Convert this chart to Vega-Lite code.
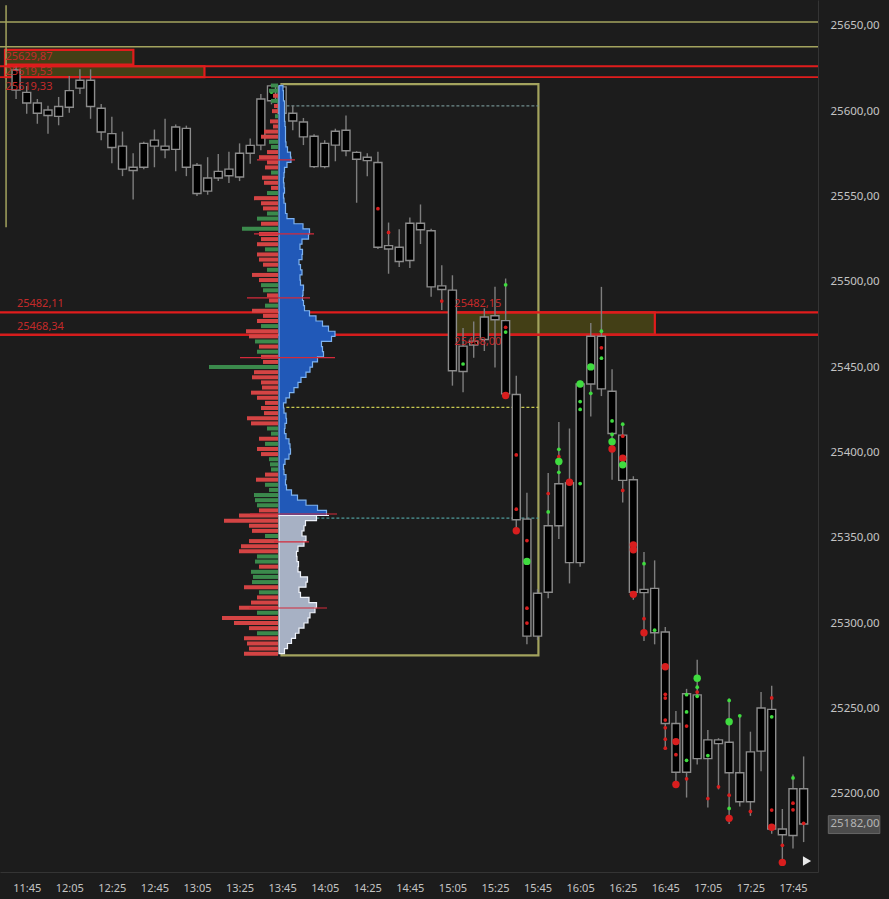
{
"$schema": "https://vega.github.io/schema/vega-lite/v6.json",
"width": 818, "height": 872,
"autosize": {"type": "none"},
"padding": {"left": 0, "top": 0, "right": 71, "bottom": 27},
"background": "#1c1c1c",
"config": {"view": {"stroke": null}, "axis": {"grid": false, "ticks": false, "labelColor": "#c4c4c4", "labelFont": "Noto Sans", "labelFontSize": 11, "domainColor": "#343434", "domainWidth": 1}},
"datasets": {
"candles": [
{"t":700,"o":25624.1,"c":25612.3,"h":25626.0,"l":25607.1},
{"t":705,"o":25611.0,"c":25604.8,"h":25614.7,"l":25598.4},
{"t":710,"o":25604.8,"c":25598.8,"h":25607.1,"l":25592.6},
{"t":715,"o":25600.7,"c":25597.4,"h":25603.2,"l":25586.8},
{"t":720,"o":25602.7,"c":25596.9,"h":25608.3,"l":25591.7},
{"t":725,"o":25612.0,"c":25602.3,"h":25620.6,"l":25599.0},
{"t":730,"o":25618.1,"c":25613.5,"h":25624.5,"l":25610.0},
{"t":735,"o":25618.1,"c":25602.7,"h":25624.5,"l":25595.5},
{"t":740,"o":25601.7,"c":25587.8,"h":25604.2,"l":25583.0},
{"t":745,"o":25586.8,"c":25578.7,"h":25596.7,"l":25569.5},
{"t":750,"o":25579.5,"c":25566.0,"h":25588.0,"l":25561.9},
{"t":755,"o":25567.1,"c":25565.2,"h":25575.3,"l":25548.2},
{"t":760,"o":25581.1,"c":25567.1,"h":25582.0,"l":25566.0},
{"t":765,"o":25583.0,"c":25579.5,"h":25589.2,"l":25567.1},
{"t":770,"o":25579.5,"c":25577.4,"h":25595.5,"l":25572.4},
{"t":775,"o":25590.7,"c":25577.6,"h":25592.2,"l":25564.8},
{"t":780,"o":25589.9,"c":25567.1,"h":25591.5,"l":25561.9},
{"t":785,"o":25568.3,"c":25551.7,"h":25569.6,"l":25550.3},
{"t":790,"o":25560.8,"c":25553.1,"h":25573.0,"l":25551.0},
{"t":795,"o":25564.7,"c":25560.8,"h":25574.9,"l":25559.0},
{"t":800,"o":25566.0,"c":25562.1,"h":25576.2,"l":25557.9},
{"t":805,"o":25575.3,"c":25561.4,"h":25581.1,"l":25559.0},
{"t":810,"o":25579.9,"c":25575.3,"h":25584.0,"l":25569.1},
{"t":815,"o":25607.1,"c":25580.1,"h":25610.0,"l":25577.0},
{"t":820,"o":25614.8,"c":25606.1,"h":25615.8,"l":25604.0},
{"t":825,"o":25614.2,"c":25598.8,"h":25616.0,"l":25597.0},
{"t":830,"o":25598.8,"c":25594.2,"h":25603.2,"l":25588.8},
{"t":835,"o":25593.6,"c":25584.9,"h":25596.0,"l":25580.1},
{"t":840,"o":25585.3,"c":25567.5,"h":25586.5,"l":25566.7},
{"t":845,"o":25581.1,"c":25567.5,"h":25583.0,"l":25566.5},
{"t":850,"o":25588.2,"c":25580.1,"h":25589.7,"l":25570.6},
{"t":855,"o":25588.8,"c":25576.8,"h":25597.4,"l":25573.5},
{"t":860,"o":25575.8,"c":25571.8,"h":25576.5,"l":25546.3},
{"t":865,"o":25573.0,"c":25571.0,"h":25575.3,"l":25561.9},
{"t":870,"o":25569.9,"c":25520.2,"h":25576.2,"l":25519.2},
{"t":875,"o":25521.2,"c":25519.2,"h":25534.7,"l":25504.7},
{"t":880,"o":25520.2,"c":25511.9,"h":25530.8,"l":25508.6},
{"t":885,"o":25534.3,"c":25512.5,"h":25537.6,"l":25508.0},
{"t":890,"o":25534.3,"c":25530.5,"h":25545.3,"l":25522.1},
{"t":895,"o":25529.9,"c":25497.0,"h":25531.0,"l":25491.2},
{"t":900,"o":25497.6,"c":25495.5,"h":25509.6,"l":25483.5},
{"t":905,"o":25495.1,"c":25447.8,"h":25503.8,"l":25439.1},
{"t":910,"o":25462.3,"c":25447.4,"h":25472.9,"l":25435.2},
{"t":915,"o":25465.2,"c":25462.9,"h":25476.7,"l":25455.5},
{"t":920,"o":25479.3,"c":25466.2,"h":25484.5,"l":25459.4},
{"t":925,"o":25480.1,"c":25477.7,"h":25497.0,"l":25449.7},
{"t":930,"o":25477.2,"c":25434.3,"h":25501.9,"l":25431.6},
{"t":935,"o":25433.9,"c":25360.5,"h":25444.9,"l":25353.2},
{"t":940,"o":25360.9,"c":25292.3,"h":25376.3,"l":25287.5},
{"t":945,"o":25317.4,"c":25292.3,"h":25320.0,"l":25290.0},
{"t":950,"o":25357.0,"c":25318.0,"h":25387.9,"l":25314.5},
{"t":955,"o":25381.6,"c":25357.0,"h":25417.8,"l":25349.3},
{"t":960,"o":25382.2,"c":25335.4,"h":25414.0,"l":25323.2},
{"t":965,"o":25440.1,"c":25335.4,"h":25442.0,"l":25333.0},
{"t":970,"o":25468.1,"c":25440.1,"h":25475.8,"l":25421.0},
{"t":975,"o":25468.1,"c":25437.2,"h":25497.0,"l":25433.0},
{"t":980,"o":25435.8,"c":25411.1,"h":25448.7,"l":25384.0},
{"t":985,"o":25410.1,"c":25383.6,"h":25416.9,"l":25370.6},
{"t":990,"o":25384.0,"c":25318.0,"h":25386.0,"l":25313.6},
{"t":995,"o":25319.7,"c":25317.8,"h":25341.6,"l":25289.4},
{"t":1000,"o":25320.3,"c":25294.3,"h":25336.7,"l":25287.5},
{"t":1005,"o":25294.7,"c":25241.1,"h":25297.6,"l":25225.9},
{"t":1010,"o":25241.1,"c":25212.5,"h":25248.5,"l":25203.5},
{"t":1015,"o":25258.5,"c":25212.5,"h":25261.4,"l":25197.7},
{"t":1020,"o":25257.9,"c":25220.5,"h":25278.4,"l":25217.0},
{"t":1025,"o":25231.5,"c":25220.5,"h":25237.3,"l":25191.9},
{"t":1030,"o":25231.5,"c":25229.3,"h":25232.5,"l":25202.5},
{"t":1035,"o":25230.1,"c":25212.2,"h":25255.8,"l":25182.2},
{"t":1040,"o":25212.2,"c":25195.2,"h":25245.6,"l":25192.5},
{"t":1045,"o":25224.5,"c":25195.2,"h":25236.3,"l":25187.0},
{"t":1050,"o":25250.2,"c":25224.9,"h":25259.5,"l":25213.1},
{"t":1055,"o":25249.4,"c":25179.3,"h":25263.3,"l":25176.5},
{"t":1060,"o":25179.3,"c":25175.9,"h":25191.0,"l":25160.0},
{"t":1065,"o":25202.9,"c":25175.5,"h":25211.2,"l":25167.8},
{"t":1070,"o":25202.9,"c":25182.2,"h":25221.8,"l":25171.6}
],
"dots": [
{"t":820,"p":25611.2,"k":"g","s":"s"},
{"t":870,"p":25542.8,"k":"r","s":"s"},
{"t":875,"p":25528.9,"k":"r","s":"s"},
{"t":900,"p":25488.7,"k":"r","s":"s"},
{"t":910,"p":25451.8,"k":"g","s":"s"},
{"t":930,"p":25498.2,"k":"g","s":"s"},
{"t":930,"p":25473.3,"k":"r","s":"s"},
{"t":930,"p":25470.5,"k":"g","s":"s"},
{"t":930,"p":25433.3,"k":"r","s":"b"},
{"t":935,"p":25398.5,"k":"r","s":"s"},
{"t":935,"p":25366.7,"k":"r","s":"s"},
{"t":935,"p":25354.1,"k":"r","s":"b"},
{"t":940,"p":25348.3,"k":"r","s":"s"},
{"t":940,"p":25336.1,"k":"g","s":"b"},
{"t":940,"p":25308.7,"k":"r","s":"s"},
{"t":940,"p":25300.0,"k":"r","s":"s"},
{"t":950,"p":25375.9,"k":"r","s":"s"},
{"t":950,"p":25365.1,"k":"g","s":"s"},
{"t":955,"p":25401.8,"k":"g","s":"s"},
{"t":955,"p":25397.5,"k":"r","s":"s"},
{"t":955,"p":25394.7,"k":"g","s":"b"},
{"t":955,"p":25388.3,"k":"g","s":"s"},
{"t":960,"p":25382.5,"k":"r","s":"b"},
{"t":965,"p":25440.1,"k":"g","s":"b"},
{"t":965,"p":25429.8,"k":"g","s":"s"},
{"t":965,"p":25425.2,"k":"g","s":"s"},
{"t":965,"p":25381.7,"k":"g","s":"s"},
{"t":970,"p":25450.1,"k":"g","s":"b"},
{"t":970,"p":25434.6,"k":"g","s":"s"},
{"t":975,"p":25471.0,"k":"g","s":"s"},
{"t":975,"p":25461.3,"k":"r","s":"s"},
{"t":975,"p":25455.2,"k":"g","s":"s"},
{"t":980,"p":25418.4,"k":"g","s":"s"},
{"t":980,"p":25410.5,"k":"g","s":"s"},
{"t":980,"p":25406.2,"k":"g","s":"b"},
{"t":980,"p":25402.0,"k":"r","s":"b"},
{"t":985,"p":25416.5,"k":"g","s":"s"},
{"t":985,"p":25409.5,"k":"r","s":"s"},
{"t":985,"p":25396.6,"k":"r","s":"b"},
{"t":985,"p":25392.7,"k":"g","s":"b"},
{"t":985,"p":25377.7,"k":"r","s":"s"},
{"t":990,"p":25345.8,"k":"r","s":"b"},
{"t":990,"p":25342.9,"k":"r","s":"b"},
{"t":990,"p":25316.8,"k":"r","s":"b"},
{"t":995,"p":25334.8,"k":"g","s":"s"},
{"t":995,"p":25302.5,"k":"r","s":"s"},
{"t":995,"p":25294.3,"k":"r","s":"b"},
{"t":1000,"p":25295.8,"k":"g","s":"s"},
{"t":1005,"p":25274.4,"k":"r","s":"b"},
{"t":1005,"p":25258.2,"k":"r","s":"s"},
{"t":1005,"p":25256.0,"k":"r","s":"s"},
{"t":1005,"p":25243.1,"k":"r","s":"s"},
{"t":1005,"p":25238.6,"k":"r","s":"s"},
{"t":1005,"p":25231.9,"k":"r","s":"s"},
{"t":1005,"p":25226.6,"k":"r","s":"s"},
{"t":1010,"p":25230.5,"k":"r","s":"b"},
{"t":1010,"p":25222.8,"k":"r","s":"s"},
{"t":1010,"p":25205.4,"k":"r","s":"b"},
{"t":1015,"p":25258.0,"k":"g","s":"s"},
{"t":1015,"p":25247.9,"k":"g","s":"s"},
{"t":1015,"p":25239.6,"k":"r","s":"s"},
{"t":1015,"p":25219.5,"k":"g","s":"s"},
{"t":1015,"p":25208.7,"k":"r","s":"s"},
{"t":1020,"p":25267.6,"k":"g","s":"b"},
{"t":1020,"p":25262.4,"k":"g","s":"s"},
{"t":1020,"p":25259.5,"k":"r","s":"s"},
{"t":1020,"p":25257.0,"k":"g","s":"s"},
{"t":1025,"p":25222.3,"k":"g","s":"s"},
{"t":1025,"p":25197.1,"k":"r","s":"s"},
{"t":1030,"p":25204.0,"k":"r","s":"s"},
{"t":1035,"p":25254.6,"k":"g","s":"s"},
{"t":1035,"p":25242.1,"k":"g","s":"b"},
{"t":1035,"p":25199.1,"k":"r","s":"s"},
{"t":1035,"p":25191.3,"k":"g","s":"s"},
{"t":1035,"p":25185.5,"k":"r","s":"b"},
{"t":1040,"p":25245.6,"k":"g","s":"s"},
{"t":1045,"p":25189.6,"k":"r","s":"s"},
{"t":1055,"p":25256.1,"k":"r","s":"s"},
{"t":1055,"p":25245.0,"k":"g","s":"s"},
{"t":1055,"p":25190.4,"k":"r","s":"s"},
{"t":1055,"p":25180.3,"k":"r","s":"b"},
{"t":1060,"p":25169.7,"k":"r","s":"s"},
{"t":1060,"p":25159.7,"k":"r","s":"b"},
{"t":1065,"p":25209.2,"k":"g","s":"s"},
{"t":1065,"p":25194.4,"k":"r","s":"s"},
{"t":1065,"p":25190.5,"k":"r","s":"s"},
{"t":1070,"p":25182.6,"k":"r","s":"s"}
],
"boxes": [
{"t0":694.8,"t1":755.1,"p0":25635.9,"p1":25627.2,"kind":"redbox"},
{"t0":694.8,"t1":788.5,"p0":25626.3,"p1":25619.9,"kind":"redbox"},
{"t0":905.0,"t1":1000.1,"p0":25482.1,"p1":25469.0,"kind":"redbox"},
{"t0":824.7,"t1":945.4,"p0":25615.8,"p1":25281.0,"kind":"olivebox"}
],
"vlines": [{"t":695.3,"p0":25532.0,"p1":25662.0}],
"hlines": [
{"p":25652.3,"kind":"olive"},
{"p":25637.8,"kind":"olive"},
{"p":25626.3,"kind":"red"},
{"p":25619.9,"kind":"red"},
{"p":25482.1,"kind":"redthick"},
{"p":25469.0,"kind":"redthin"}
],
"dashes": [
{"t0":827.0,"t1":945.4,"p":25603.1,"kind":"grey"},
{"t0":827.0,"t1":945.4,"p":25426.4,"kind":"yellow"},
{"t0":827.0,"t1":945.4,"p":25361.5,"kind":"teal"}
],
"labels": [
{"t":695.0,"p":25631.5,"label":"25629,87"},
{"t":695.0,"p":25623.1,"label":"25619,53"},
{"t":695.0,"p":25614.1,"label":"25619,33"},
{"t":700.4,"p":25486.8,"label":"25482,11"},
{"t":700.4,"p":25473.6,"label":"25468,34"},
{"t":905.9,"p":25486.8,"label":"25482,15"},
{"t":905.9,"p":25464.6,"label":"25468,00"}
],
"tag": [{"t0":1081.6,"t1":1105.8,"p0":25187.1,"p1":25176.6,"t":1082.6,"p":25182.0,"label":"25182,00"}],
"marker": [{"t":1071.6,"p":25160.5}],
"profile": [
{"p":25615,"v":3,"l":-8,"c":"g"},
{"p":25612,"v":5,"l":-10,"c":"g"},
{"p":25609,"v":4,"l":-6,"c":"r"},
{"p":25606,"v":5,"l":-8,"c":"g"},
{"p":25603,"v":6,"l":-5,"c":"r"},
{"p":25600,"v":5,"l":-7,"c":"r"},
{"p":25597,"v":6,"l":-4,"c":"g"},
{"p":25594,"v":5,"l":-9,"c":"r"},
{"p":25591,"v":7,"l":-6,"c":"r"},
{"p":25588,"v":6,"l":-15,"c":"r"},
{"p":25585,"v":7,"l":-18,"c":"r"},
{"p":25582,"v":6,"l":-10,"c":"g"},
{"p":25579,"v":8,"l":-8,"c":"g"},
{"p":25576,"v":9,"l":-12,"c":"r"},
{"p":25573,"v":14,"l":-20,"c":"r"},
{"p":25570,"v":10,"l":-12,"c":"r"},
{"p":25567,"v":6,"l":-14,"c":"r"},
{"p":25564,"v":5,"l":-8,"c":"g"},
{"p":25561,"v":5,"l":-17,"c":"r"},
{"p":25558,"v":4,"l":-15,"c":"r"},
{"p":25555,"v":6,"l":-8,"c":"r"},
{"p":25552,"v":5,"l":-12,"c":"g"},
{"p":25549,"v":4,"l":-25,"c":"r"},
{"p":25546,"v":6,"l":-18,"c":"r"},
{"p":25543,"v":7,"l":-16,"c":"r"},
{"p":25540,"v":6,"l":-12,"c":"g"},
{"p":25537,"v":10,"l":-22,"c":"g"},
{"p":25534,"v":20,"l":-18,"c":"r"},
{"p":25531,"v":28,"l":-37,"c":"g"},
{"p":25528,"v":33,"l":-20,"c":"r"},
{"p":25525,"v":26,"l":-18,"c":"r"},
{"p":25522,"v":20,"l":-22,"c":"r"},
{"p":25519,"v":22,"l":-14,"c":"g"},
{"p":25516,"v":25,"l":-22,"c":"r"},
{"p":25513,"v":21,"l":-20,"c":"r"},
{"p":25510,"v":19,"l":-16,"c":"r"},
{"p":25507,"v":24,"l":-12,"c":"g"},
{"p":25504,"v":22,"l":-27,"c":"r"},
{"p":25501,"v":20,"l":-20,"c":"r"},
{"p":25498,"v":23,"l":-18,"c":"g"},
{"p":25495,"v":26,"l":-16,"c":"g"},
{"p":25492,"v":22,"l":-12,"c":"r"},
{"p":25489,"v":25,"l":-10,"c":"r"},
{"p":25486,"v":24,"l":-14,"c":"g"},
{"p":25483,"v":27,"l":-27,"c":"r"},
{"p":25480,"v":34,"l":-16,"c":"r"},
{"p":25477,"v":40,"l":-22,"c":"r"},
{"p":25474,"v":47,"l":-18,"c":"g"},
{"p":25471,"v":52,"l":-33,"c":"r"},
{"p":25468,"v":60,"l":-30,"c":"r"},
{"p":25465,"v":45,"l":-24,"c":"g"},
{"p":25462,"v":40,"l":-20,"c":"r"},
{"p":25459,"v":47,"l":-22,"c":"g"},
{"p":25456,"v":42,"l":-18,"c":"r"},
{"p":25453,"v":35,"l":-16,"c":"r"},
{"p":25450,"v":32,"l":-70,"c":"g"},
{"p":25447,"v":30,"l":-25,"c":"r"},
{"p":25444,"v":24,"l":-27,"c":"r"},
{"p":25441,"v":20,"l":-18,"c":"r"},
{"p":25438,"v":18,"l":-17,"c":"r"},
{"p":25435,"v":12,"l":-28,"c":"r"},
{"p":25432,"v":9,"l":-22,"c":"r"},
{"p":25429,"v":5,"l":-14,"c":"r"},
{"p":25426,"v":4,"l":-18,"c":"r"},
{"p":25423,"v":6,"l":-15,"c":"r"},
{"p":25420,"v":8,"l":-32,"c":"r"},
{"p":25417,"v":7,"l":-28,"c":"r"},
{"p":25414,"v":5,"l":-12,"c":"g"},
{"p":25411,"v":6,"l":-8,"c":"g"},
{"p":25408,"v":8,"l":-20,"c":"r"},
{"p":25405,"v":12,"l":-14,"c":"g"},
{"p":25402,"v":10,"l":-22,"c":"r"},
{"p":25399,"v":13,"l":-18,"c":"r"},
{"p":25396,"v":7,"l":-10,"c":"g"},
{"p":25393,"v":5,"l":-9,"c":"g"},
{"p":25390,"v":4,"l":-8,"c":"g"},
{"p":25387,"v":6,"l":-14,"c":"r"},
{"p":25384,"v":8,"l":-23,"c":"r"},
{"p":25381,"v":5,"l":-14,"c":"g"},
{"p":25378,"v":10,"l":-10,"c":"g"},
{"p":25375,"v":15,"l":-25,"c":"g"},
{"p":25372,"v":22,"l":-24,"c":"g"},
{"p":25369,"v":32,"l":-22,"c":"g"},
{"p":25366,"v":45,"l":-20,"c":"r"},
{"p":25363,"v":50,"l":-40,"c":"r"},
{"p":25360,"v":25,"l":-55,"c":"r"},
{"p":25357,"v":28,"l":-30,"c":"r"},
{"p":25354,"v":22,"l":-27,"c":"r"},
{"p":25351,"v":24,"l":-14,"c":"g"},
{"p":25348,"v":30,"l":-30,"c":"r"},
{"p":25345,"v":20,"l":-38,"c":"r"},
{"p":25342,"v":18,"l":-40,"c":"r"},
{"p":25339,"v":17,"l":-22,"c":"g"},
{"p":25336,"v":19,"l":-24,"c":"g"},
{"p":25333,"v":20,"l":-20,"c":"r"},
{"p":25330,"v":18,"l":-28,"c":"g"},
{"p":25327,"v":25,"l":-26,"c":"g"},
{"p":25324,"v":32,"l":-27,"c":"g"},
{"p":25321,"v":22,"l":-35,"c":"r"},
{"p":25318,"v":18,"l":-20,"c":"g"},
{"p":25315,"v":25,"l":-22,"c":"r"},
{"p":25312,"v":35,"l":-28,"c":"r"},
{"p":25309,"v":40,"l":-40,"c":"r"},
{"p":25306,"v":32,"l":-22,"c":"g"},
{"p":25303,"v":30,"l":-57,"c":"r"},
{"p":25300,"v":28,"l":-45,"c":"r"},
{"p":25297,"v":22,"l":-30,"c":"r"},
{"p":25294,"v":18,"l":-22,"c":"g"},
{"p":25291,"v":15,"l":-35,"c":"r"},
{"p":25288,"v":10,"l":-32,"c":"r"},
{"p":25285,"v":7,"l":-30,"c":"r"},
{"p":25282,"v":4,"l":-35,"c":"r"}
],
"nodes": [
{"p":25571.4,"a":-22,"b":16},
{"p":25528.1,"a":-25,"b":35},
{"p":25490.5,"a":-32,"b":31},
{"p":25455.5,"a":-39,"b":56},
{"p":25363.9,"a":-29,"b":58},
{"p":25347.6,"a":-5,"b":30},
{"p":25308.8,"a":-30,"b":48}
]
},
"layer": [
{"layer": [
{"data": {"name": "boxes"}, "mark": {"type": "rect", "strokeWidth": 2.2},
 "encoding": {
  "x": {"field": "t0", "type": "quantitative", "scale": {"domain": [694.8, 1074.4], "nice": false, "zero": false},
        "axis": {"values": [705,725,745,765,785,805,825,845,865,885,905,925,945,965,985,1005,1025,1045,1065], "labelExpr": "floor(datum.value/60) + ':' + (datum.value % 60 < 10 ? '0' : '') + (datum.value % 60)", "labelPadding": 10, "title": null}},
  "x2": {"field": "t1"},
  "y": {"field": "p0", "type": "quantitative", "scale": {"domain": [25157, 25662.2], "nice": false, "zero": false},
        "axis": {"orient": "right", "values": [25200,25250,25300,25350,25400,25450,25500,25550,25600,25650], "labelExpr": "replace(format(datum.value, '.2f'), '.', ',')", "labelPadding": 12, "title": null, "labelFontSize": 11.5}},
  "y2": {"field": "p1"},
  "fill": {"field": "kind", "type": "nominal", "scale": {"domain": ["redbox", "olivebox"], "range": ["#433f16", "rgba(0,0,0,0)"]}, "legend": null},
  "stroke": {"field": "kind", "type": "nominal", "scale": {"domain": ["redbox", "olivebox"], "range": ["#e01c1c", "#a3a35e"]}, "legend": null}
 }},
{"data": {"name": "vlines"}, "mark": {"type": "rule", "color": "#a3a35e", "strokeWidth": 1.5},
 "encoding": {
  "x": {"field": "t", "type": "quantitative", "scale": {"domain": [694.8, 1074.4], "nice": false, "zero": false},
        "axis": {"values": [705,725,745,765,785,805,825,845,865,885,905,925,945,965,985,1005,1025,1045,1065], "labelExpr": "floor(datum.value/60) + ':' + (datum.value % 60 < 10 ? '0' : '') + (datum.value % 60)", "labelPadding": 10, "title": null}},
  "y": {"field": "p0", "type": "quantitative", "scale": {"domain": [25157, 25662.2], "nice": false, "zero": false},
        "axis": {"orient": "right", "values": [25200,25250,25300,25350,25400,25450,25500,25550,25600,25650], "labelExpr": "replace(format(datum.value, '.2f'), '.', ',')", "labelPadding": 12, "title": null, "labelFontSize": 11.5}},
  "y2": {"field": "p1"}
 }},
{"data": {"name": "hlines"}, "mark": {"type": "rule"},
 "encoding": {
  "y": {"field": "p", "type": "quantitative", "scale": {"domain": [25157, 25662.2], "nice": false, "zero": false},
        "axis": {"orient": "right", "values": [25200,25250,25300,25350,25400,25450,25500,25550,25600,25650], "labelExpr": "replace(format(datum.value, '.2f'), '.', ',')", "labelPadding": 12, "title": null, "labelFontSize": 11.5}},
  "color": {"field": "kind", "type": "nominal", "scale": {"domain": ["olive", "red", "redthick", "redthin"], "range": ["#a3a35e", "#e01c1c", "#e01c1c", "#d41c1c"]}, "legend": null},
  "strokeWidth": {"field": "kind", "type": "nominal", "scale": {"domain": ["olive", "red", "redthick", "redthin"], "range": [1.5, 2.5, 3, 1.5]}, "legend": null}
 }},
{"data": {"name": "dashes"}, "mark": {"type": "rule", "strokeDash": [3, 2], "strokeWidth": 1.2},
 "encoding": {
  "x": {"field": "t0", "type": "quantitative", "scale": {"domain": [694.8, 1074.4], "nice": false, "zero": false},
        "axis": {"values": [705,725,745,765,785,805,825,845,865,885,905,925,945,965,985,1005,1025,1045,1065], "labelExpr": "floor(datum.value/60) + ':' + (datum.value % 60 < 10 ? '0' : '') + (datum.value % 60)", "labelPadding": 10, "title": null}},
  "x2": {"field": "t1"},
  "y": {"field": "p", "type": "quantitative", "scale": {"domain": [25157, 25662.2], "nice": false, "zero": false},
        "axis": {"orient": "right", "values": [25200,25250,25300,25350,25400,25450,25500,25550,25600,25650], "labelExpr": "replace(format(datum.value, '.2f'), '.', ',')", "labelPadding": 12, "title": null, "labelFontSize": 11.5}},
  "color": {"field": "kind", "type": "nominal", "scale": {"domain": ["grey", "yellow", "teal"], "range": ["#6f8c8c", "#c9c94f", "#4f9a9a"]}, "legend": null}
 }},
{"data": {"name": "candles"}, "mark": {"type": "rule", "color": "#7e7e7e", "strokeWidth": 1.4},
 "encoding": {
  "x": {"field": "t", "type": "quantitative", "scale": {"domain": [694.8, 1074.4], "nice": false, "zero": false},
        "axis": {"values": [705,725,745,765,785,805,825,845,865,885,905,925,945,965,985,1005,1025,1045,1065], "labelExpr": "floor(datum.value/60) + ':' + (datum.value % 60 < 10 ? '0' : '') + (datum.value % 60)", "labelPadding": 10, "title": null}},
  "y": {"field": "h", "type": "quantitative", "scale": {"domain": [25157, 25662.2], "nice": false, "zero": false},
        "axis": {"orient": "right", "values": [25200,25250,25300,25350,25400,25450,25500,25550,25600,25650], "labelExpr": "replace(format(datum.value, '.2f'), '.', ',')", "labelPadding": 12, "title": null, "labelFontSize": 11.5}},
  "y2": {"field": "l"}
 }},
{"data": {"name": "candles"}, "mark": {"type": "bar", "size": 8, "fill": "#000000", "stroke": "#8c8c8c", "strokeWidth": 1.4},
 "encoding": {
  "x": {"field": "t", "type": "quantitative", "scale": {"domain": [694.8, 1074.4], "nice": false, "zero": false},
        "axis": {"values": [705,725,745,765,785,805,825,845,865,885,905,925,945,965,985,1005,1025,1045,1065], "labelExpr": "floor(datum.value/60) + ':' + (datum.value % 60 < 10 ? '0' : '') + (datum.value % 60)", "labelPadding": 10, "title": null}},
  "y": {"field": "o", "type": "quantitative", "scale": {"domain": [25157, 25662.2], "nice": false, "zero": false},
        "axis": {"orient": "right", "values": [25200,25250,25300,25350,25400,25450,25500,25550,25600,25650], "labelExpr": "replace(format(datum.value, '.2f'), '.', ',')", "labelPadding": 12, "title": null, "labelFontSize": 11.5}},
  "y2": {"field": "c"}
 }},
{"data": {"name": "dots"}, "mark": {"type": "point", "filled": true, "opacity": 1},
 "encoding": {
  "x": {"field": "t", "type": "quantitative", "scale": {"domain": [694.8, 1074.4], "nice": false, "zero": false},
        "axis": {"values": [705,725,745,765,785,805,825,845,865,885,905,925,945,965,985,1005,1025,1045,1065], "labelExpr": "floor(datum.value/60) + ':' + (datum.value % 60 < 10 ? '0' : '') + (datum.value % 60)", "labelPadding": 10, "title": null}},
  "y": {"field": "p", "type": "quantitative", "scale": {"domain": [25157, 25662.2], "nice": false, "zero": false},
        "axis": {"orient": "right", "values": [25200,25250,25300,25350,25400,25450,25500,25550,25600,25650], "labelExpr": "replace(format(datum.value, '.2f'), '.', ',')", "labelPadding": 12, "title": null, "labelFontSize": 11.5}},
  "color": {"field": "k", "type": "nominal", "scale": {"domain": ["g", "r"], "range": ["#3fdc3f", "#d81e1e"]}, "legend": null},
  "size": {"field": "s", "type": "nominal", "scale": {"domain": ["s", "b"], "range": [14, 55]}, "legend": null}
 }},
{"data": {"name": "labels"}, "mark": {"type": "text", "align": "left", "baseline": "middle", "font": "Noto Sans", "fontSize": 11, "color": "#c42a2a"},
 "encoding": {
  "x": {"field": "t", "type": "quantitative", "scale": {"domain": [694.8, 1074.4], "nice": false, "zero": false},
        "axis": {"values": [705,725,745,765,785,805,825,845,865,885,905,925,945,965,985,1005,1025,1045,1065], "labelExpr": "floor(datum.value/60) + ':' + (datum.value % 60 < 10 ? '0' : '') + (datum.value % 60)", "labelPadding": 10, "title": null}},
  "y": {"field": "p", "type": "quantitative", "scale": {"domain": [25157, 25662.2], "nice": false, "zero": false},
        "axis": {"orient": "right", "values": [25200,25250,25300,25350,25400,25450,25500,25550,25600,25650], "labelExpr": "replace(format(datum.value, '.2f'), '.', ',')", "labelPadding": 12, "title": null, "labelFontSize": 11.5}},
  "text": {"field": "label"}
 }},
{"data": {"name": "tag"}, "mark": {"type": "rect", "fill": "#4c4c4c", "stroke": "#666666", "strokeWidth": 1},
 "encoding": {
  "x": {"field": "t0", "type": "quantitative", "scale": {"domain": [694.8, 1074.4], "nice": false, "zero": false},
        "axis": {"values": [705,725,745,765,785,805,825,845,865,885,905,925,945,965,985,1005,1025,1045,1065], "labelExpr": "floor(datum.value/60) + ':' + (datum.value % 60 < 10 ? '0' : '') + (datum.value % 60)", "labelPadding": 10, "title": null}},
  "x2": {"field": "t1"},
  "y": {"field": "p0", "type": "quantitative", "scale": {"domain": [25157, 25662.2], "nice": false, "zero": false},
        "axis": {"orient": "right", "values": [25200,25250,25300,25350,25400,25450,25500,25550,25600,25650], "labelExpr": "replace(format(datum.value, '.2f'), '.', ',')", "labelPadding": 12, "title": null, "labelFontSize": 11.5}},
  "y2": {"field": "p1"}
 }},
{"data": {"name": "tag"}, "mark": {"type": "text", "align": "left", "baseline": "middle", "font": "Noto Sans", "fontSize": 11.5, "color": "#b4b4b4"},
 "encoding": {
  "x": {"field": "t", "type": "quantitative", "scale": {"domain": [694.8, 1074.4], "nice": false, "zero": false},
        "axis": {"values": [705,725,745,765,785,805,825,845,865,885,905,925,945,965,985,1005,1025,1045,1065], "labelExpr": "floor(datum.value/60) + ':' + (datum.value % 60 < 10 ? '0' : '') + (datum.value % 60)", "labelPadding": 10, "title": null}},
  "y": {"field": "p", "type": "quantitative", "scale": {"domain": [25157, 25662.2], "nice": false, "zero": false},
        "axis": {"orient": "right", "values": [25200,25250,25300,25350,25400,25450,25500,25550,25600,25650], "labelExpr": "replace(format(datum.value, '.2f'), '.', ',')", "labelPadding": 12, "title": null, "labelFontSize": 11.5}},
  "text": {"field": "label"}
 }},
{"data": {"name": "marker"}, "mark": {"type": "point", "shape": "triangle-right", "filled": true, "color": "#e8e8e8", "size": 90, "opacity": 1},
 "encoding": {
  "x": {"field": "t", "type": "quantitative", "scale": {"domain": [694.8, 1074.4], "nice": false, "zero": false},
        "axis": {"values": [705,725,745,765,785,805,825,845,865,885,905,925,945,965,985,1005,1025,1045,1065], "labelExpr": "floor(datum.value/60) + ':' + (datum.value % 60 < 10 ? '0' : '') + (datum.value % 60)", "labelPadding": 10, "title": null}},
  "y": {"field": "p", "type": "quantitative", "scale": {"domain": [25157, 25662.2], "nice": false, "zero": false},
        "axis": {"orient": "right", "values": [25200,25250,25300,25350,25400,25450,25500,25550,25600,25650], "labelExpr": "replace(format(datum.value, '.2f'), '.', ',')", "labelPadding": 12, "title": null, "labelFontSize": 11.5}}
 }}
],
"resolve": {"scale": {"color": "independent", "fill": "independent", "stroke": "independent", "strokeWidth": "independent", "size": "independent"}}
},
{"layer": [
{"data": {"name": "profile"}, "mark": {"type": "bar", "orient": "horizontal", "size": 4},
 "encoding": {
  "x": {"field": "l", "type": "quantitative", "scale": {"domain": [-279, 539], "nice": false, "zero": false}, "axis": null},
  "x2": {"datum": -1},
  "y": {"field": "p", "type": "quantitative", "scale": {"domain": [25157, 25662.2], "nice": false, "zero": false},
        "axis": {"orient": "right", "values": [25200,25250,25300,25350,25400,25450,25500,25550,25600,25650], "labelExpr": "replace(format(datum.value, '.2f'), '.', ',')", "labelPadding": 12, "title": null, "labelFontSize": 11.5}},
  "color": {"field": "c", "type": "nominal", "scale": {"domain": ["g", "r"], "range": ["#3b8a4c", "#d44444"]}, "legend": null}
 }},
{"data": {"name": "profile"}, "transform": [{"filter": "datum.p >= 25363"}],
 "mark": {"type": "area", "orient": "horizontal", "interpolate": "step", "fill": "#2159b8", "stroke": "#7db2f0", "strokeWidth": 1.2, "opacity": 1},
 "encoding": {
  "x": {"field": "v", "type": "quantitative", "scale": {"domain": [-279, 539], "nice": false, "zero": false}, "axis": null},
  "x2": {"datum": 0},
  "y": {"field": "p", "type": "quantitative", "scale": {"domain": [25157, 25662.2], "nice": false, "zero": false},
        "axis": {"orient": "right", "values": [25200,25250,25300,25350,25400,25450,25500,25550,25600,25650], "labelExpr": "replace(format(datum.value, '.2f'), '.', ',')", "labelPadding": 12, "title": null, "labelFontSize": 11.5}}
 }},
{"data": {"name": "profile"}, "transform": [{"filter": "datum.p <= 25363"}],
 "mark": {"type": "area", "orient": "horizontal", "interpolate": "step", "fill": "#a7b1c4", "stroke": "#eef2fa", "strokeWidth": 1.2, "opacity": 1},
 "encoding": {
  "x": {"field": "v", "type": "quantitative", "scale": {"domain": [-279, 539], "nice": false, "zero": false}, "axis": null},
  "x2": {"datum": 0},
  "y": {"field": "p", "type": "quantitative", "scale": {"domain": [25157, 25662.2], "nice": false, "zero": false},
        "axis": {"orient": "right", "values": [25200,25250,25300,25350,25400,25450,25500,25550,25600,25650], "labelExpr": "replace(format(datum.value, '.2f'), '.', ',')", "labelPadding": 12, "title": null, "labelFontSize": 11.5}}
 }},
{"data": {"name": "nodes"}, "mark": {"type": "rule", "color": "#d42a3a", "strokeWidth": 1.2},
 "encoding": {
  "x": {"field": "a", "type": "quantitative", "scale": {"domain": [-279, 539], "nice": false, "zero": false}, "axis": null},
  "x2": {"field": "b"},
  "y": {"field": "p", "type": "quantitative", "scale": {"domain": [25157, 25662.2], "nice": false, "zero": false},
        "axis": {"orient": "right", "values": [25200,25250,25300,25350,25400,25450,25500,25550,25600,25650], "labelExpr": "replace(format(datum.value, '.2f'), '.', ',')", "labelPadding": 12, "title": null, "labelFontSize": 11.5}}
 }}
]}
],
"resolve": {"scale": {"x": "independent", "color": "independent"}}
}
